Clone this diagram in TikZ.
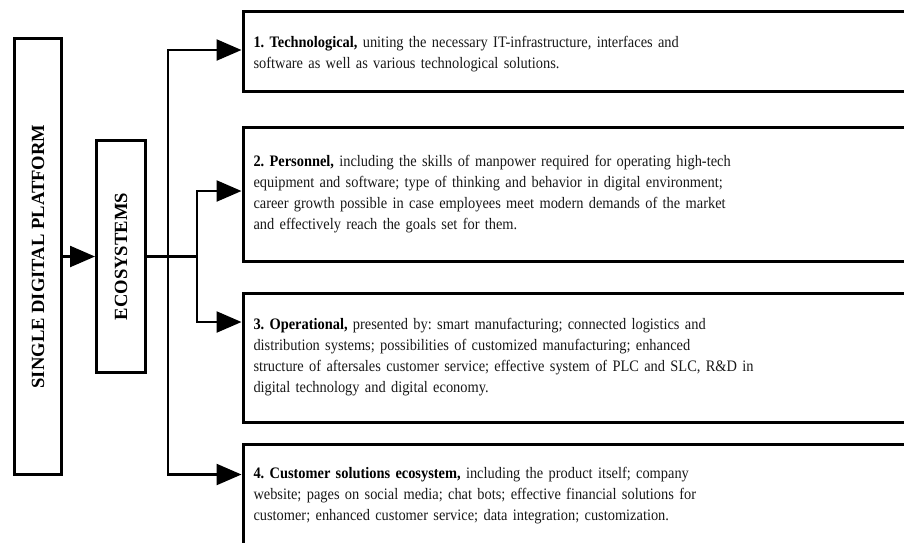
\documentclass[tikz,border=0pt]{standalone}
\usepackage{fontspec}
\setmainfont{Liberation Serif}
\newfontfamily\bodyfont[FakeStretch=0.9]{Liberation Serif}
\usetikzlibrary{arrows.meta,calc}
\newcommand{\vlabelfont}{\fontsize{18.6}{20}\selectfont\bfseries}
\frenchspacing
\begin{document}
\begin{tikzpicture}[x=1pt,y=-1pt,
  frame/.style={draw=black, line width=3pt, inner sep=0pt},
  itembox/.style={frame, anchor=north west, minimum width=680pt, align=left,
    text width=659pt, inner xsep=10.5pt, inner ysep=0pt, text=black!90,
    font=\bodyfont\fontsize{16}{21}\selectfont},
  conn/.style={line width=2.4pt},
  arr/.style={conn, -{Triangle[length=25pt,width=21pt]}}]
\clip (0,0) rectangle (904,542);
\fill[white] (0,0) rectangle (904,542);

\node[frame, minimum width=47pt, minimum height=436pt] (sdp) at (38,256.5)
  {\rotatebox{90}{\vlabelfont SINGLE DIGITAL PLATFORM}};
\node[frame, minimum width=49pt, minimum height=232pt] (eco) at (121,256.5)
  {\rotatebox{90}{\vlabelfont ECOSYSTEMS}};

\node[itembox, minimum height=80pt] (b1) at (241.5,10)
  {\rule{0pt}{17pt}\textcolor{black}{\bfseries 1. Technological,} uniting the necessary IT-infrastructure, interfaces and\\
   software as well as various technological solutions.};
\node[itembox, minimum height=134pt] (b2) at (241.5,125.5)
  {\textcolor{black}{\bfseries 2. Personnel,} including the skills of manpower required for operating high-tech\\
   equipment and software; type of thinking and behavior in digital environment;\\
   career growth possible in case employees meet modern demands of the market\\
   and effectively reach the goals set for them.};
\node[itembox, minimum height=129pt] (b3) at (241.5,291.5)
  {\textcolor{black}{\bfseries 3. Operational,} presented by: smart manufacturing; connected logistics and\\
   distribution systems; possibilities of customized manufacturing; enhanced\\
   structure of aftersales customer service; effective system of PLC and SLC, R\&D in\\
   digital technology and digital economy.};
\node[itembox, minimum height=104pt] (b4) at (241.5,442.5)
  {\textcolor{black}{\bfseries 4. Customer solutions ecosystem,} including the product itself; company\\
   website; pages on social media; chat bots; effective financial solutions for\\
   customer; enhanced customer service; data integration; customization.};

\coordinate (j1) at (168,256.5);
\coordinate (j2) at (197,256.5);

\draw[arr] (sdp) -- (eco);
\draw[conn] (eco.east) -- (j2);
\draw[arr] (j1) |- ([yshift=-40pt]b1.north west);
\draw[arr] (j1) |- ([yshift=-32pt]b4.north west);
\draw[arr] (j2) |- ([yshift=-65.5pt]b2.north west);
\draw[arr] (j2) |- ([yshift=-30.5pt]b3.north west);
\end{tikzpicture}
\end{document}
